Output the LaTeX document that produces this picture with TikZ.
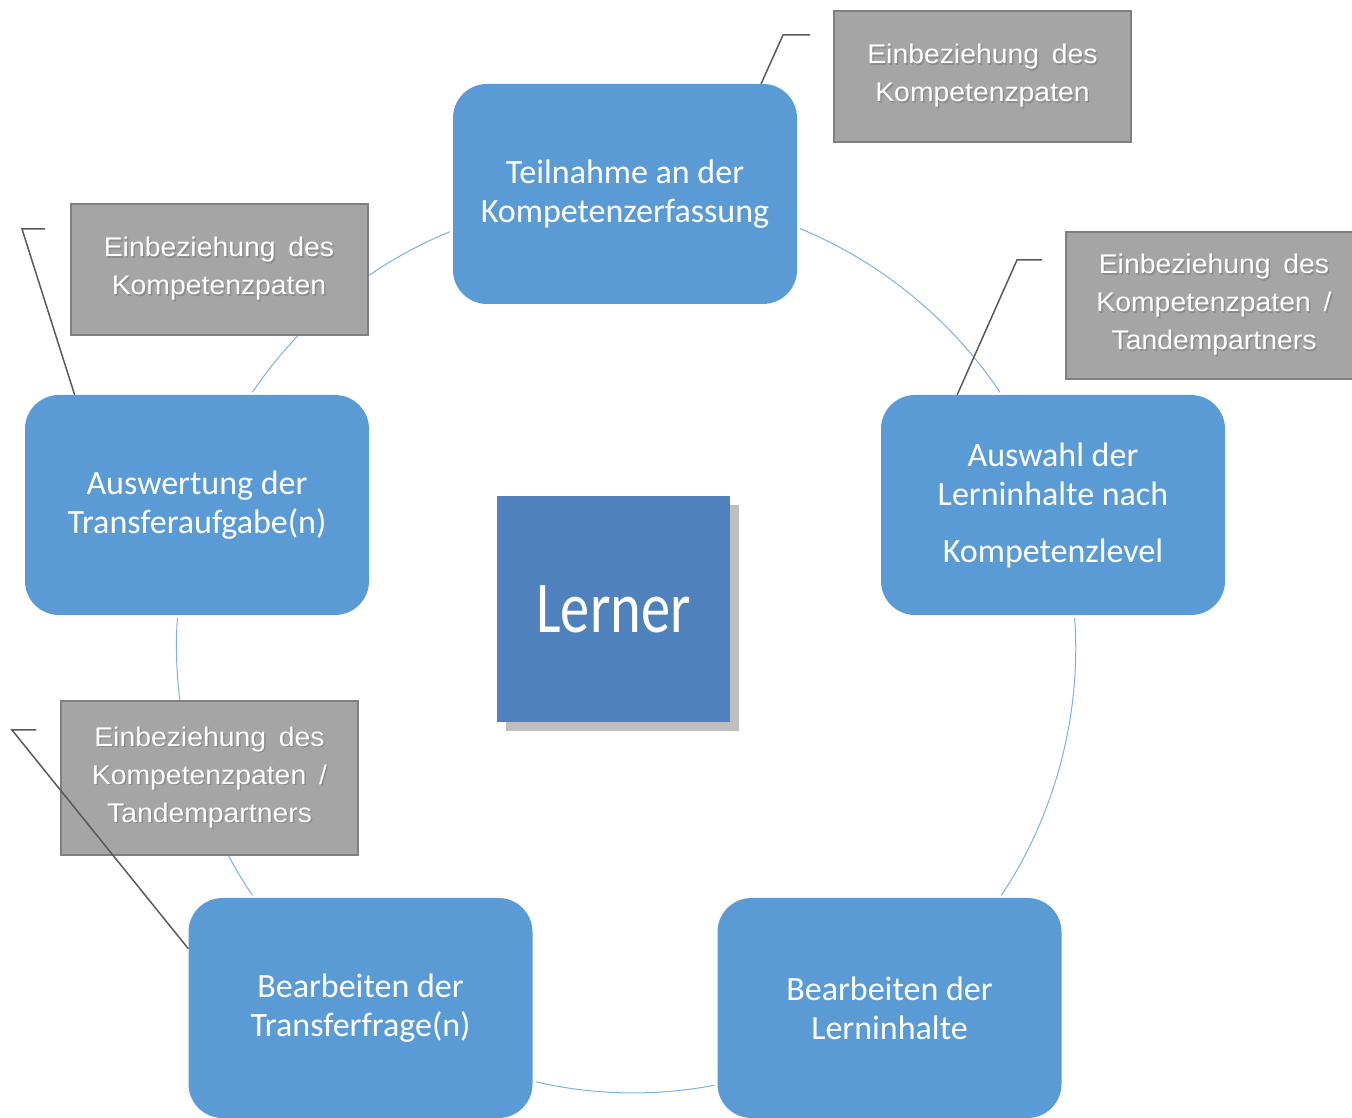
\documentclass[tikz,border=0pt]{standalone}
\usepackage{fontspec}
\setmainfont{Liberation Sans}
\newfontfamily\stagefont{Carlito}
\newfontfamily\calloutfont[FakeStretch=1.05]{Liberation Sans}
\usetikzlibrary{shadows}

\definecolor{stageblue}{HTML}{5B9BD5}
\definecolor{lernerblue}{HTML}{4F81BD}
\definecolor{ringblue}{HTML}{7EB0E0}
\definecolor{calloutfill}{HTML}{A5A5A5}
\definecolor{calloutline}{HTML}{7F7F7F}
\definecolor{leadergray}{HTML}{595959}

% white text with a small grey shadow
\newcommand{\shtext}[1]{\makebox[0pt][l]{\hspace{1.5pt}\raisebox{-1.5pt}{\color{black!45}#1}}#1}

\begin{document}
\begin{tikzpicture}[x=1pt, y=1pt,
    stage/.style = {rectangle, rounded corners=34pt, fill=stageblue, text=white,
        minimum width=344pt, minimum height=220pt, inner sep=0pt, align=center,
        font=\stagefont\fontsize{34}{39}\selectfont},
    lerner/.style = {rectangle, fill=lernerblue, text=white,
        minimum width=233pt, minimum height=226pt,
        drop shadow={shadow xshift=9pt, shadow yshift=-9pt, fill=black!25, opacity=1},
        font=\stagefont\fontsize{73}{80}\selectfont},
    callout/.style = {rectangle, fill=calloutfill, draw=calloutline, line width=2pt,
        text=white, minimum width=297pt, inner sep=0pt, align=center,
        font=\calloutfont\fontsize{27}{38}\selectfont},
    ring/.style = {draw=ringblue, line width=1pt, looseness=0.87,
        shorten <=3pt, shorten >=3pt},
    leader/.style = {draw=leadergray, line width=1.5pt}]
    \useasboundingbox (0,0) rectangle (1352,1117);

    % cycle of stages
    \node[stage] (T)  at (625,923)   {Teilnahme an der\\Kompetenzerfassung};
    \node[stage] (A)  at (1053,612)  {Auswahl der\\Lerninhalte nach\\[18pt]Kompetenzlevel};
    \node[stage] (BR) at (889.5,109) {Bearbeiten der\\Lerninhalte};
    \node[stage] (BL) at (360.5,109) {Bearbeiten der\\Transferfrage(n)};
    \node[stage] (L)  at (197,612)   {Auswertung der\\Transferaufgabe(n)};

    \node[lerner] (lern) at (613.5,508) {\scalebox{0.8}[1]{Lerner}};

    % ring segments
    \draw[ring] (T.-11.25) to[bend left=17] (A.115.8);
    \draw[ring] (A.-79.1) to[bend left=19] (BR.45.8);
    \draw[ring] (BR.-156.05) to[bend left=12] (BL.-23.95);
    \draw[ring] (BL.134.2) to[bend left=19] (L.-100.9);
    \draw[ring] (L.64.2) to[bend left=17] (T.-168.75);

    % callouts
    \node[callout, minimum height=131pt] (c1) at (982.5,1040.5)
        {\shtext{Einbeziehung\hspace{5pt} des}\\\shtext{Kompetenzpaten}};
    \node[callout, minimum height=131pt] (c2) at (219,847.5)
        {\shtext{Einbeziehung\hspace{5pt} des}\\\shtext{Kompetenzpaten}};
    \node[callout, minimum height=147pt] (c3) at (1214,811.5)
        {\shtext{Einbeziehung\hspace{5pt} des}\\\shtext{Kompetenzpaten\hspace{5pt} /}\\\shtext{Tandempartners}};
    \node[callout, minimum height=154pt] (c4) at (209.5,339)
        {\shtext{Einbeziehung\hspace{5pt} des}\\\shtext{Kompetenzpaten\hspace{5pt} /}\\\shtext{Tandempartners}};

    \coordinate (e1) at (783,1082);
    \coordinate (e2) at (22,888);
    \coordinate (e3) at (1017,857);
    \coordinate (e4) at (12,387);

    \draw[leader] (T.39.8) -- (e1) -- ++(27,0);
    \draw[leader] (L.138.7) -- (e2) -- ++(23,0);
    \draw[leader] (A.131.1) -- (e3) -- ++(25,0);
    \draw[leader] (BL.161.4) -- (e4) -- ++(24,0);
\end{tikzpicture}
\end{document}
